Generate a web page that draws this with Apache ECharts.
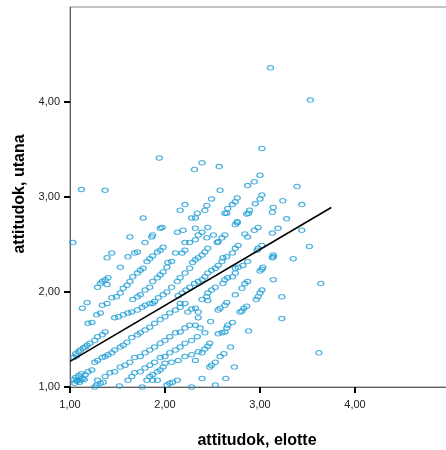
<!DOCTYPE html>
<html><head><meta charset="utf-8">
<script src="https://cdn.jsdelivr.net/npm/echarts@6/dist/echarts.min.js"></script>
<style>html,body{margin:0;padding:0;background:#fff}#c{width:446px;height:450px}</style>
</head><body><div id="c"></div><script>
const xName = 'attitudok, elotte';
const yName = 'attitudok, utana';
const xTickValues = [1, 2, 3, 4];
const yTickValues = [1, 2, 3, 4];

// [elotte, utana] pairs
const outlierPoints = [
 [1.03,2.52],[1.12,3.08],[1.37,3.07],[1.94,3.41],[2.31,3.29],[2.39,3.36],[2.57,3.32],[3.11,4.36],[3.53,4.02],
 [3.02,3.51],[2.58,3.07],[2.49,2.98],[2.76,2.99],[2.87,3.12],[2.94,3.16],[3.00,3.23],[3.39,3.11],[3.44,2.92],
 [3.28,2.77],[3.44,2.65],[3.52,2.48],[3.35,2.35],[3.64,2.09],[3.23,1.95],[3.23,1.72],[2.88,1.59],[3.62,1.36]
];
const upperRightPoints = [
 [3.02,3.02],[3.00,2.98],[2.95,2.93],[2.88,2.83],[2.86,2.82],[3.24,2.96],[3.14,2.89],[3.13,2.84],[2.74,2.95],
 [2.71,2.92],[2.66,2.88],[2.63,2.83],[2.44,2.91],[2.42,2.86],[2.34,2.83],[2.16,2.86],[2.21,2.92],[2.28,2.78],
 [2.32,2.78],[2.65,2.83],[2.89,2.86],[2.76,2.74],[2.94,2.65],[2.84,2.61],[2.87,2.58],[3.13,2.62],[3.19,2.67],
 [3.02,2.49],[2.98,2.46],[2.97,2.44],[3.14,2.39],[3.14,2.37],[3.13,2.36],[3.03,2.26],[3.02,2.24],[3.00,2.22],
 [2.45,2.68],[2.74,2.71],[2.76,2.73],[2.32,2.67],[2.39,2.63],[2.63,2.60],[2.60,2.57],[2.56,2.53],[2.55,2.52],
 [2.98,2.68]
];
const middleRightPoints = [
 [2.77,2.49],[2.74,2.46],[2.71,2.41],[2.65,2.37],[2.61,2.36],[2.45,2.46],[2.42,2.42],[2.39,2.39],[2.35,2.36],
 [2.32,2.34],[2.87,2.32],[2.82,2.28],[2.77,2.26],[2.74,2.25],[2.60,2.32],[2.56,2.28],[2.53,2.25],[2.49,2.23],
 [2.45,2.20],[2.42,2.16],[2.39,2.13],[2.35,2.11],[2.74,2.20],[2.71,2.16],[2.66,2.15],[2.63,2.13],[2.61,2.09],
 [3.14,2.13],[2.87,2.11],[2.84,2.09],[2.81,2.04],[3.02,2.02],[3.00,1.99],[2.98,1.95],[2.96,1.92],[2.74,1.97],
 [2.53,2.05],[2.49,2.02],[2.45,1.99],[2.44,1.95],[2.39,1.92],[2.65,1.89],[2.63,1.86],[2.58,1.83],[2.56,1.81],
 [2.86,1.85],[2.83,1.83],[2.81,1.80],[2.79,1.79],[2.45,1.91],[2.32,1.83],[2.35,1.79]
];
const lowerRightPoints = [
 [2.48,1.69],[2.32,1.65],[2.37,1.62],[2.42,1.57],[2.71,1.68],[2.66,1.65],[2.65,1.62],[2.63,1.58],[2.60,1.57],
 [2.56,1.56],[2.47,1.46],[2.45,1.43],[2.42,1.40],[2.39,1.36],[2.69,1.42],[2.32,1.28],[2.62,1.35],[2.58,1.32],
 [2.53,1.26],[2.49,1.23],[2.47,1.21],[2.73,1.21],[2.39,1.09],[2.64,1.09],[2.53,1.02],[2.28,1.00]
];
const upperLeftPoints = [
 [1.05,1.04],[1.07,1.06],[1.08,1.07],[1.13,1.09],[1.16,1.13],[1.19,1.16],[1.23,1.18],[1.11,1.07],[1.04,1.31],
 [1.07,1.33],[1.11,1.39],[1.14,1.41],[1.18,1.44],[1.21,1.46],[1.26,1.49],[1.29,1.53],[1.34,1.55],[1.37,1.58],
 [1.19,1.67],[1.23,1.68],[1.28,1.76],[1.32,1.78],[1.34,1.86],[1.39,1.88],[1.13,1.83],[1.18,1.89],[1.29,2.05],
 [1.32,2.09],[1.34,2.11],[1.37,2.13],[1.40,2.15],[1.39,2.08],[1.39,2.36],[1.44,2.41],[1.53,2.26],[1.61,2.37],
 [1.68,2.41],[1.71,2.42],[1.63,2.58],[1.77,2.78],[1.79,2.52],[1.86,2.58],[1.87,2.60],[1.95,2.67],[1.97,2.68],
 [2.13,2.63],[2.19,2.65],[1.98,2.47],[1.81,2.32],[1.84,2.35],[1.87,2.38],[1.92,2.42],[1.95,2.44],[2.11,2.41],
 [2.18,2.41],[2.21,2.44],[2.26,2.52],[2.32,2.55],[2.35,2.60],[2.21,2.52],[2.44,2.57],[2.51,2.60],[2.03,2.31],
 [2.02,2.26],[2.07,2.32],[1.04,1.08],[1.06,1.10],[1.09,1.12],[1.12,1.14],[1.10,1.05],[1.15,1.08],[1.06,1.35],
 [1.09,1.37],[1.16,1.42]
];
const centralPoints = [
 [1.44,1.94],[1.49,1.95],[1.53,1.99],[1.56,2.04],[1.60,2.07],[1.63,2.11],[1.66,2.16],[1.71,2.20],[1.74,2.23],
 [1.77,2.25],[1.66,1.92],[1.71,1.95],[1.74,1.97],[1.79,2.02],[1.84,2.05],[1.87,2.11],[1.92,2.15],[1.95,2.18],
 [1.98,2.21],[1.87,1.88],[1.93,1.94],[1.98,1.97],[2.02,2.00],[2.07,2.05],[2.13,2.11],[2.16,2.15],[2.21,2.20],
 [2.26,2.25],[2.29,2.31],[2.16,1.88],[1.47,1.73],[1.51,1.74],[1.56,1.76],[1.61,1.78],[1.65,1.79],[1.71,1.81],
 [1.76,1.84],[1.79,1.86],[1.84,1.88],[1.89,1.90],[2.14,1.96],[2.18,1.99],[2.22,2.02],[2.26,2.05],[2.31,2.09],
 [2.24,1.79],[2.28,1.82]
];
const lowerLeftPoints = [
 [1.26,1.26],[1.29,1.28],[1.34,1.31],[1.37,1.32],[1.40,1.34],[1.44,1.36],[1.47,1.39],[1.53,1.42],[1.56,1.44],
 [1.60,1.47],[1.65,1.52],[1.71,1.55],[1.74,1.57],[1.79,1.60],[1.84,1.63],[1.89,1.67],[1.95,1.71],[2.00,1.74],
 [2.05,1.78],[2.11,1.81],[2.16,1.84],[2.21,1.88],[1.37,1.11],[1.42,1.15],[1.47,1.16],[1.53,1.21],[1.58,1.23],
 [1.63,1.26],[1.68,1.31],[1.74,1.32],[1.79,1.36],[1.84,1.39],[1.89,1.42],[1.95,1.46],[2.00,1.49],[2.05,1.53],
 [2.11,1.57],[2.16,1.58],[2.21,1.62],[2.26,1.65],[2.35,1.73],[1.61,1.07],[1.65,1.11],[1.68,1.15],[1.74,1.16],
 [1.79,1.20],[1.84,1.23],[1.89,1.26],[1.95,1.31],[2.00,1.32],[2.05,1.36],[2.11,1.39],[2.16,1.42],[2.21,1.46],
 [2.28,1.49],[2.34,1.53],[1.81,1.07],[1.84,1.11],[1.87,1.13],[1.92,1.16],[1.95,1.18],[1.98,1.21],[2.00,1.25],
 [2.07,1.26],[2.14,1.28],[2.21,1.32],[2.28,1.34],[2.35,1.37],[1.29,1.07]
];
const bottomPoints = [
 [1.26,1.00],[1.28,1.02],[1.32,1.04],[1.35,1.05],[1.52,1.01],[1.76,1.00],[1.87,1.07],[1.92,1.07],[2.02,1.02],
 [2.05,1.04],[2.08,1.05],[2.13,1.07]
];
const fitX = [1.00, 3.75];
const fitY = [1.27, 2.89];

const allPoints = [].concat(outlierPoints, upperRightPoints, middleRightPoints, lowerRightPoints,
  upperLeftPoints, centralPoints, lowerLeftPoints, bottomPoints);

const fmt = v => Number(v).toFixed(2).replace('.', ',');
const labelFont = { fontFamily: 'Liberation Sans, Arial, sans-serif', fontSize: 11, color: '#222' };
const nameFont = { fontFamily: 'Liberation Sans, Arial, sans-serif', fontSize: 16, fontWeight: 'bold', color: '#000' };

const chart = echarts.init(document.getElementById('c'), null, { renderer: 'canvas' });
chart.setOption({
  animation: false,
  backgroundColor: '#fff',
  grid: { left: 70, right: -4, top: 7, bottom: 63, containLabel: false, outerBoundsMode: 'none',
          show: true, borderColor: '#8a8a8a', borderWidth: 1, backgroundColor: 'transparent' },
  xAxis: {
    type: 'value', min: 1, max: 5, interval: 1,
    name: xName, nameLocation: 'middle', nameGap: 46,
    nameTextStyle: Object.assign({ padding: [0, 6, 0, 0] }, nameFont),
    axisLine: { show: true, onZero: false, lineStyle: { color: '#5e5e5e', width: 1 } },
    axisTick: { show: true, length: 6, lineStyle: { color: '#000', width: 2 }, customValues: xTickValues },
    axisLabel: Object.assign({ margin: 12, formatter: fmt, customValues: xTickValues }, labelFont),
    splitLine: { show: false }
  },
  yAxis: {
    type: 'value', min: 1, max: 5, interval: 1,
    name: yName, nameLocation: 'middle', nameGap: 40, nameRotate: 90,
    nameTextStyle: Object.assign({ padding: [0, 0, 0, 6] }, nameFont),
    axisLine: { show: true, onZero: false, lineStyle: { color: '#5e5e5e', width: 1 } },
    axisTick: { show: true, length: 6, lineStyle: { color: '#000', width: 2 }, customValues: yTickValues },
    axisLabel: Object.assign({ margin: 10, formatter: fmt, customValues: yTickValues }, labelFont),
    splitLine: { show: false }
  },
  series: [
    {
      type: 'scatter', data: allPoints, symbol: 'circle', symbolSize: [6, 4.5],
      itemStyle: { color: 'rgba(255,255,255,0)', borderColor: '#1f9ed4', borderWidth: 1.2 },
      emphasis: { disabled: true }, z: 2
    },
    {
      type: 'line', data: fitX.map((x, i) => [x, fitY[i]]), symbol: 'none',
      lineStyle: { color: '#000', width: 1.6 }, z: 3, silent: true
    }
  ]
});
</script></body></html>
